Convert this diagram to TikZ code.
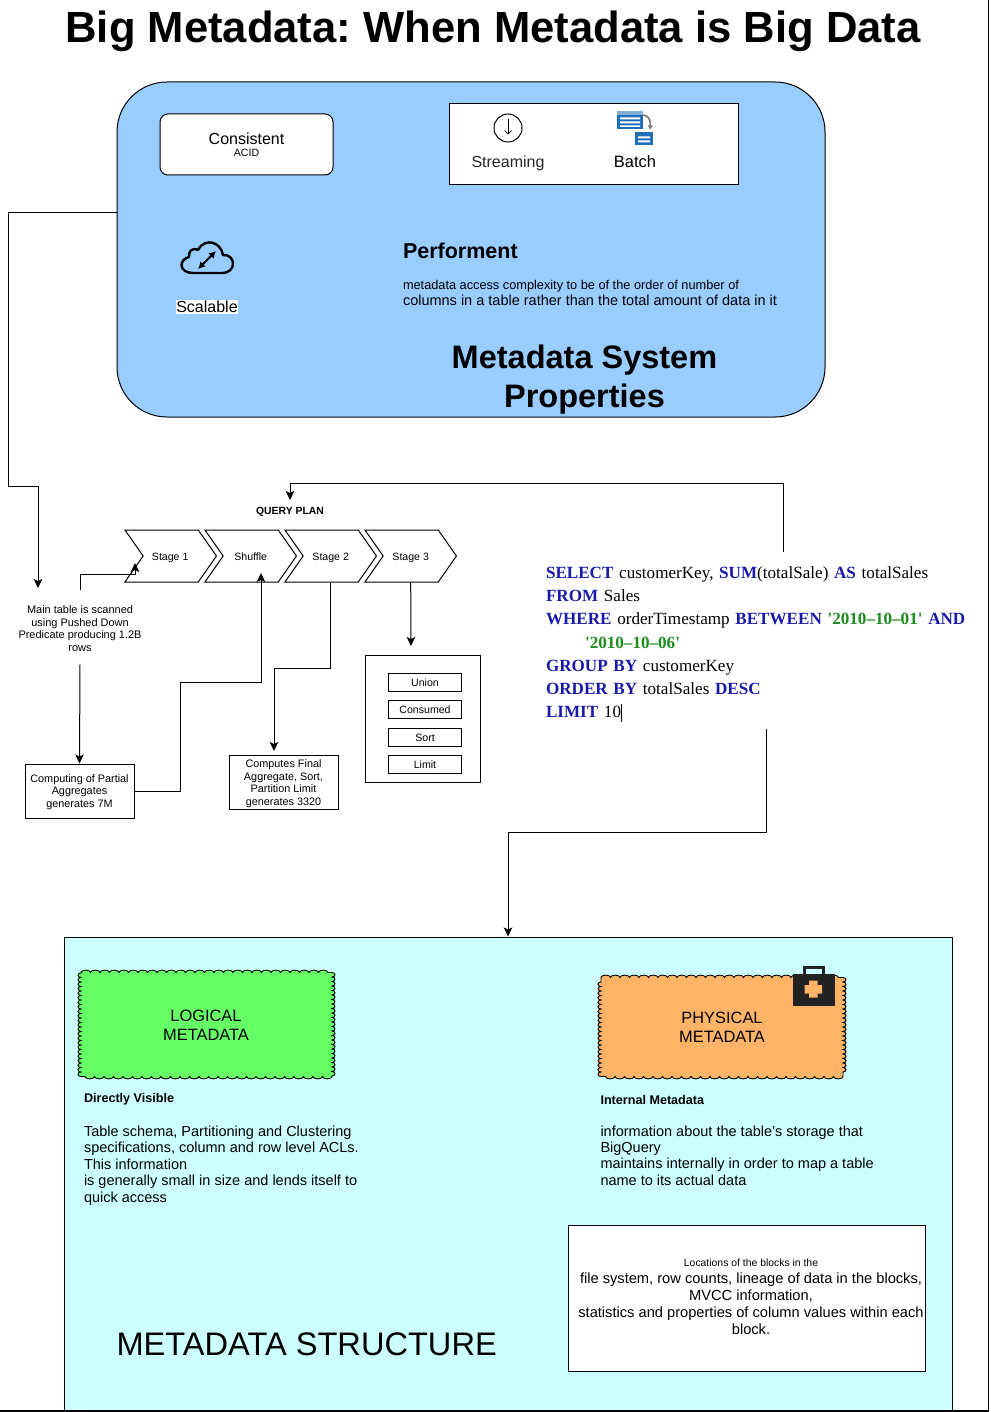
\documentclass[tikz,border=0pt]{standalone}
\usepackage{fontspec}
\setmainfont{Liberation Sans}
\newfontfamily\sqlfont{Liberation Serif}
\usetikzlibrary{positioning,arrows.meta,shapes.symbols,calc,decorations.pathmorphing}
\definecolor{propblue}{HTML}{99CCFF}
\definecolor{structcyan}{HTML}{CCFFFF}
\definecolor{loggreen}{HTML}{66FF66}
\definecolor{physorange}{HTML}{FFB366}
\definecolor{kitdark}{HTML}{222222}
\definecolor{sqlblue}{HTML}{1A1AAA}
\definecolor{sqlgreen}{HTML}{1C8C1C}
\definecolor{batchblue}{HTML}{1F6FB8}
\newcommand{\fs}[2]{\fontsize{#1}{#2}\selectfont}
\newcommand{\kw}[1]{\textbf{\textcolor{sqlblue}{#1}}}
\newcommand{\dt}[1]{\textbf{\textcolor{sqlgreen}{#1}}}
\tikzset{
  every picture/.style={line width=1pt},
  blk/.style={draw,rectangle,align=center,inner sep=0,font=\fs{10.85}{12.7}},
  stg/.style={draw,signal,signal from=west,signal to=east,signal pointer angle=110,
    minimum width=91.5,minimum height=52,inner sep=0,font=\fs{10.6}{12.7}},
  opr/.style={draw,rectangle,minimum width=73,minimum height=18,inner sep=0},
  oprt/.style={inner sep=0,font=\fs{10.6}{12.7}},
  wavy/.style={rectangle,inner sep=0},
  lbl/.style={inner sep=0,align=left,anchor=west},
  flow/.style={-{Stealth[length=9,width=8.5,inset=2]},line width=1pt},
  wire/.style={line width=1pt},
}
\newcommand{\scallop}[2]{
  \draw[fill=#2,line width=0.9pt] (#1.south west)
    decorate[decoration={bumps,segment length=9,amplitude=3}] {-- (#1.north west)}
    decorate[decoration={bumps,segment length=19,amplitude=2.4}] {-- (#1.north east)}
    decorate[decoration={bumps,segment length=9,amplitude=3}] {-- (#1.south east)}
    decorate[decoration={bumps,segment length=19,amplitude=2.4}] {-- cycle};}

\begin{document}
\frenchspacing
\begin{tikzpicture}[x=1pt,y=-1pt]
\useasboundingbox (0,0) rectangle (990,1412);
% page edges
\coordinate (PT) at (988.5,0);
\coordinate (PC) at (988.5,1411);
\coordinate (PL) at (0,1411);
\draw[line width=1.4pt] (PT) -- (PC);
\draw[line width=2.4pt] (PC) -- (PL);
% title
\node[inner sep=0,font=\bfseries\fs{43.6}{48}] (TTL) at (493,31) {Big Metadata: When Metadata is Big Data};
% properties box
\node[draw,rectangle,rounded corners=50,fill=propblue,minimum width=708,minimum height=335] (PROP) at (471,249.5) {};
\node[draw,rectangle,rounded corners=8,fill=white,minimum width=173,minimum height=61] (CONS) at (246.5,144.5) {};
\node[inner sep=0,font=\fs{16}{18}] (CONST) at (246.5,138.5) {Consistent};
\node[inner sep=0,font=\fs{10.6}{12}] (ACID) at (246.5,153) {ACID};
\node[draw,rectangle,fill=white,minimum width=289,minimum height=81] (INGEST) at (593.5,144.5) {};
\node[draw,circle,minimum size=28,inner sep=0] (STRM) at (508,128) {};
\draw[-{Straight Barb[length=3.5,width=7]},line width=0.7pt] (STRM.north) ++(0,6) -- ++(0,15);
\node[inner sep=0,font=\fs{16}{18}] (STRMT) at (508,163) {\textcolor{black!85}{Streaming}};
% batch icon
\fill[batchblue] (617,115) rectangle (643,129);
\fill[batchblue!55] (617,111) rectangle (643,115.5);
\fill[white] (620,117.5) rectangle (640,119.5) (620,121.5) rectangle (640,123.5) (620,125.5) rectangle (640,127);
\fill[batchblue] (635,132) rectangle (653,145.5);
\fill[white] (638,136.5) rectangle (650,138.5) (638,140.5) rectangle (650,142.5);
\draw[-{Latex[length=4.5,width=6]},gray,line width=1.8pt] (643,115) .. controls (648,115) and (651,120) .. (650,130);
\node[inner sep=0,font=\fs{16.5}{18}] (BTCHT) at (635,161.5) {Batch};
% cloud icon
\draw[line width=2.4pt,line join=round] (193,273) -- (222,273) .. controls (237,273) and (236,254) .. (223,255)
  .. controls (221,242) and (205,237) .. (198,250) .. controls (192,247) and (188,252) .. (189,257)
  .. controls (178,260) and (179,273) .. (193,273) -- cycle;
\draw[{Latex[length=7,width=7.5]}-{Latex[length=7,width=7.5]},line width=2pt] (198,269) -- (216,251);
\node[fill=white,inner xsep=0.5,inner ysep=1.5,font=\fs{16}{18}] (SCAL) at (207,307) {Scalable};
% performance text
\node[lbl,font=\bfseries\fs{21.5}{24}] (PERF) at (402.5,250.5) {Performent};
\node[lbl,font=\fs{12.75}{15}] (PERFA) at (402.5,286.5) {metadata access complexity to be of the order of number of};
\node[lbl,font=\fs{14.5}{15}] (PERFB) at (402.5,300.5) {columns in a table rather than the total amount of data in it};
\node[inner sep=0,align=center,font=\bfseries\fs{32.5}{39}] (PROPT) at (584.5,379.5) {Metadata System\\Properties};
% query plan stages
\node[inner sep=0,font=\bfseries\fs{10.4}{12}] (QP) at (290,512) {QUERY PLAN};
\node[stg] (S1) at (170.7,556) {};
\node[stg] (SH) at (250.7,556) {};
\node[stg] (S2) at (330.7,556) {};
\node[stg] (S3) at (410.7,556) {};
\node[oprt] (S1T) at (170.2,557.5) {Stage 1};
\node[oprt] (SHT) at (250.7,557) {Shuffle};
\node[oprt] (S2T) at (330.7,557.5) {Stage 2};
\node[oprt] (S3T) at (410.7,557.5) {Stage 3};
% stage notes
\node[inner sep=0,align=center,minimum height=74,font=\fs{10.95}{12.7}] (SCAN) at (80,627) {\rule{0pt}{11pt}Main table is scanned\\using Pushed Down\\Predicate producing 1.2B\\rows};
\node[blk,minimum width=109,minimum height=54] (PART) at (79.5,791) {\rule{0pt}{10pt}Computing of Partial\\Aggregates\\generates 7M};
\node[blk,minimum width=109,minimum height=54] (FINL) at (283.5,782) {\rule{0pt}{11pt}Computes Final\\Aggregate, Sort,\\Partition Limit\\generates 3320};
\node[draw,rectangle,minimum width=115,minimum height=127] (OPS) at (422.5,718.5) {};
\node[opr] (UN) at (425,682) {};
\node[opr] (CO) at (425,709) {};
\node[opr] (SO) at (425,737) {};
\node[opr] (LI) at (425,764) {};
\node[oprt] at (425,683) {Union};
\node[oprt] at (425,710) {Consumed};
\node[oprt] at (425,737.5) {Sort};
\node[oprt] at (425,765) {Limit};
% query text
\node[inner sep=0,text width=440,minimum height=176,align=left,font=\sqlfont\fs{17.1}{23.25}] (SQL) at (766,640)
 {\rule{0pt}{20pt}\kw{SELECT} customerKey, \kw{SUM}(totalSale) \kw{AS} totalSales\\
  \kw{FROM} Sales\\
  \kw{WHERE} orderTimestamp \kw{BETWEEN} \dt{'2010–10–01'} \kw{AND}\\
  \hspace*{39pt}\dt{'2010–10–06'}\\
  \kw{GROUP BY} customerKey\\
  \kw{ORDER BY} totalSales \kw{DESC}\\
  \kw{LIMIT} 10\rule[-4pt]{0.5pt}{18pt}};
% free ends
\coordinate (E1) at (38,588);
\coordinate (E2) at (135,563);
\coordinate (E3) at (261,573);
\coordinate (E4) at (274,751);
\coordinate (E5) at (411,646);
\coordinate (E6) at (290,500);
% connectors
\draw[wire] (PROP.west |- 0,213) -- (8,213) -- (8,486) -- (38,486);
\draw[flow] (38,486) -- (E1);
\draw[flow] (SCAN.north) |- (135,574) -- (E2);
\draw[flow] (SCAN.south) -- (PART.north);
\draw[flow] (PART.east) -- (180,791) -- (180,682) -- (261,682) -- (E3);
\draw[flow] (S2.south) -- (330.7,668) -- (274,668) -- (E4);
\draw[flow] (S3.south) -- (E5);
\draw[flow] ([xshift=17]SQL.north) -- (783,483) -- (290,483) -- (E6);
% structure box
\node[draw,rectangle,fill=structcyan,minimum width=888,minimum height=473] (STRUCT) at (508,1173.5) {};
\draw[flow] (SQL.south) -- (766,832) -- (508,832) -- (STRUCT.north);
\node[wavy,minimum width=250,minimum height=103] (LGB) at (206.5,1024.5) {};
\scallop{LGB}{loggreen}
\node[inner sep=0,align=center,font=\fs{16.4}{19}] (LG) at (206,1025) {LOGICAL\\METADATA};
\node[wavy,minimum width=241,minimum height=98] (PHB) at (722,1027) {};
\scallop{PHB}{physorange}
\node[inner sep=0,align=center,font=\fs{16.4}{19}] (PH) at (PHB) {PHYSICAL\\METADATA};
% medical kit icon
\draw[kitdark,line width=3pt] (804,975) -- (804,967.5) -- (823.5,967.5) -- (823.5,975);
\fill[kitdark] (792.5,974) rectangle (834.5,1006);
\fill[physorange] (809,980.5) rectangle (817.5,997.5) (804.5,985) rectangle (822,993.5);
% structure text
\node[lbl,font=\bfseries\fs{12.6}{14}] (LGH) at (83.5,1099.5) {Directly Visible};
\node[lbl,anchor=north west,font=\fs{14.5}{16.5}] (LGD) at (83.5,1125) {Table schema, Partitioning and Clustering\\specifications, column and row level ACLs.\\This information\\is generally small in size and lends itself to\\quick access};
\node[lbl,font=\bfseries\fs{12.6}{14}] (PHH) at (600,1099.5) {Internal Metadata};
\node[lbl,anchor=north west,font=\fs{14.5}{16.4}] (PHD) at (600,1125) {information about the table’s storage that\\BigQuery\\maintains internally in order to map a table\\name to its actual data};
\node[draw,rectangle,fill=white,minimum width=357,minimum height=146] (BLOCKS) at (747,1298) {};
\node[inner sep=0,align=center,font=\fs{14.65}{17}] (BLOCKT) at (751,1296.5)
 {{\fs{10.4}{17}Locations of the blocks in the}\\file system, row counts, lineage of data in the blocks,\\MVCC information,\\statistics and properties of column values within each\\block.};
\node[lbl,font=\fs{32.6}{38}] (MS) at (116,1344) {METADATA STRUCTURE};
\end{tikzpicture}
\end{document}
